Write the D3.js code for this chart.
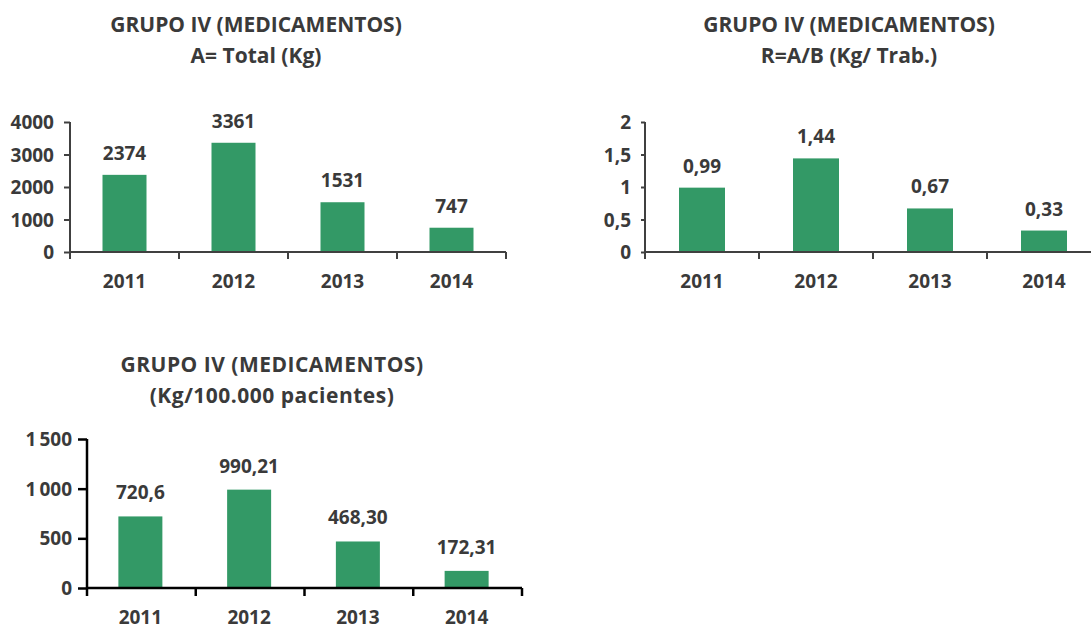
<!DOCTYPE html>
<html>
<head>
<meta charset="utf-8">
<script src="https://cdnjs.cloudflare.com/ajax/libs/d3/7.8.5/d3.min.js"></script>
<style>
  html, body { margin: 0; padding: 0; background: #fff; }
  svg { display: block; }
  text { font-family: "Open Sans", "DejaVu Sans", sans-serif; font-weight: bold; fill: #3a3a3a; }
</style>
</head>
<body>
<script>
// ---------- data ----------
const years = ["2011", "2012", "2013", "2014"];

const totalKg = [2374, 3361, 1531, 747];
const totalKgLabels = ["2374", "3361", "1531", "747"];
const totalKgTicks = [0, 1000, 2000, 3000, 4000];
const totalKgTickLabels = ["0", "1000", "2000", "3000", "4000"];

const kgPerWorker = [0.99, 1.44, 0.67, 0.33];
const kgPerWorkerLabels = ["0,99", "1,44", "0,67", "0,33"];
const kgPerWorkerTicks = [0, 0.5, 1, 1.5, 2];
const kgPerWorkerTickLabels = ["0", "0,5", "1", "1,5", "2"];

const kgPerPatients = [720.6, 990.21, 468.30, 172.31];
const kgPerPatientsLabels = ["720,6", "990,21", "468,30", "172,31"];
const kgPerPatientsTicks = [0, 500, 1000, 1500];
const kgPerPatientsTickLabels = ["0", "500", "1\u2009000", "1\u2009500"];

const titles1 = ["GRUPO IV (MEDICAMENTOS)", "A= Total (Kg)"];
const titles2 = ["GRUPO IV (MEDICAMENTOS)", "R=A/B (Kg/ Trab.)"];
const titles3 = ["GRUPO IV (MEDICAMENTOS)", "(Kg/100.000 pacientes)"];

// ---------- drawing ----------
const W = 1091, H = 632;
const svg = d3.select("body").append("svg").attr("width", W).attr("height", H);
const barColor = "#339966";
const FS = 19;

function drawChart(cfg) {
  const g = svg.append("g");
  const x = d3.scaleBand().domain(years).range([cfg.x0, cfg.x1]).paddingInner(0).paddingOuter(0);
  const y = d3.scaleLinear().domain([0, cfg.max]).range([cfg.y0, cfg.yTop]);
  const bw = cfg.barW;

  // title
  cfg.titles.forEach((t, i) => {
    g.append("text")
      .attr("x", cfg.titleX)
      .attr("y", cfg.titleY + i * cfg.titleGap)
      .attr("text-anchor", "middle")
      .style("font-size", cfg.titleSize + "px")
      .style("letter-spacing", (cfg.titleLS || 0) + "px")
      .text(t);
  });

  // bars
  g.selectAll("rect.bar").data(cfg.values).enter().append("rect")
    .attr("class", "bar")
    .attr("x", (d, i) => x(years[i]) + x.bandwidth() / 2 - bw / 2 + cfg.barShift)
    .attr("width", bw)
    .attr("y", d => y(d))
    .attr("height", d => cfg.y0 - y(d))
    .attr("fill", barColor);

  // value labels
  g.selectAll("text.val").data(cfg.values).enter().append("text")
    .attr("class", "val")
    .attr("x", (d, i) => x(years[i]) + x.bandwidth() / 2 + cfg.barShift)
    .attr("y", d => y(d) - cfg.labelOff)
    .attr("text-anchor", "middle")
    .style("font-size", FS + "px")
    .text((d, i) => cfg.labels[i]);

  // y axis
  const yAxis = d3.axisLeft(y).tickValues(cfg.ticks)
    .tickFormat((d, i) => cfg.tickLabels[i]).tickSize(cfg.yTick).tickPadding(cfg.yPad);
  const ya = g.append("g").attr("transform", `translate(${cfg.x0},0)`).call(yAxis);
  ya.attr("font-family", null).attr("font-size", null);
  ya.select(".domain").attr("stroke", cfg.axisColor).attr("stroke-width", cfg.axisW)
    .attr("d", `M0,${cfg.yTop}V${cfg.y0}`);
  ya.selectAll(".tick line").attr("stroke", cfg.axisColor).attr("stroke-width", cfg.axisW);
  ya.selectAll(".tick text").style("font-size", FS + "px").attr("fill", "#3a3a3a").attr("dy", "0.35em");

  // x axis
  const xAxis = d3.axisBottom(x).tickSize(0).tickPadding(cfg.xPad);
  const xa = g.append("g").attr("transform", `translate(0,${cfg.y0})`).call(xAxis);
  xa.attr("font-family", null).attr("font-size", null);
  xa.select(".domain").attr("stroke", cfg.axisColor).attr("stroke-width", cfg.axisW)
    .attr("d", `M${cfg.x0},0H${cfg.x1}`);
  xa.selectAll(".tick text").style("font-size", FS + "px").attr("fill", "#3a3a3a")
    .attr("dx", cfg.barShift);
  // category separators (tick marks at band edges)
  const edges = years.map(v => x(v)).concat([cfg.x1]);
  xa.selectAll("line.sep").data(edges).enter().append("line")
    .attr("class", "sep")
    .attr("x1", d => d).attr("x2", d => d)
    .attr("y1", 0).attr("y2", cfg.xTick)
    .attr("stroke", cfg.axisColor).attr("stroke-width", cfg.axisW);
  g.selectAll(".domain").attr("fill", "none");
}

drawChart({
  titles: titles1, titleX: 256, titleY: 32, titleGap: 31, titleSize: 21,
  values: totalKg, labels: totalKgLabels, ticks: totalKgTicks, tickLabels: totalKgTickLabels,
  max: 4000, x0: 70, x1: 506, y0: 252, yTop: 122, barW: 44, barShift: 0, labelOff: 15,
  axisColor: "#404040", axisW: 2, yTick: 6, yPad: 10, xTick: 7, xPad: 23
});

drawChart({
  titles: titles2, titleX: 849, titleY: 32, titleGap: 31, titleSize: 21,
  values: kgPerWorker, labels: kgPerWorkerLabels, ticks: kgPerWorkerTicks, tickLabels: kgPerWorkerTickLabels,
  max: 2, x0: 645, x1: 1101, y0: 252, yTop: 122, barW: 46, barShift: 0, labelOff: 15,
  axisColor: "#404040", axisW: 2, yTick: 4, yPad: 10, xTick: 7, xPad: 23
});

drawChart({
  titles: titles3, titleX: 272, titleY: 372, titleGap: 31, titleSize: 21, titleLS: 0.5,
  values: kgPerPatients, labels: kgPerPatientsLabels, ticks: kgPerPatientsTicks, tickLabels: kgPerPatientsTickLabels,
  max: 1500, x0: 87, x1: 522, y0: 588, yTop: 439, barW: 44, barShift: -1, labelOff: 17,
  axisColor: "#000000", axisW: 2.5, yTick: 9, yPad: 6, xTick: 8, xPad: 23
});
</script>
</body>
</html>
